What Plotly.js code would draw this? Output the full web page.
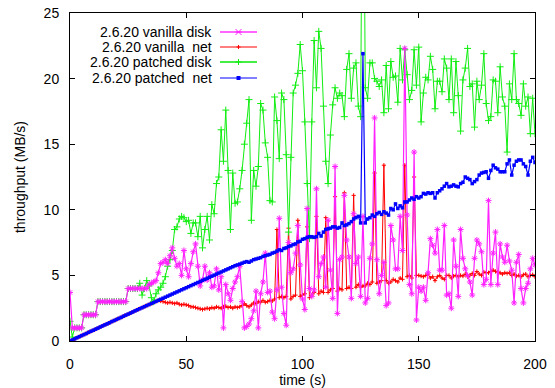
<!DOCTYPE html>
<html>
<head>
<meta charset="utf-8">
<script src="https://cdn.plot.ly/plotly-3.0.1.min.js"></script>
<style>html,body{margin:0;padding:0;background:#fff;}#chart{width:555px;height:388px;}</style>
</head>
<body>
<div id="chart"></div>
<script>
const seriesNames = ["2.6.20 vanilla disk", "2.6.20 vanilla  net", "2.6.20 patched disk", "2.6.20 patched  net"];

const time = [0,
1,2,3,4,5,6,7,8,9,10,
11,12,13,14,15,16,17,18,19,20,
21,22,23,24,25,26,27,28,29,30,
31,32,33,34,35,36,37,38,39,40,
41,42,43,44,45,46,47,48,49,50,
51,52,53,54,55,56,57,58,59,60,
61,62,63,64,65,66,67,68,69,70,
71,72,73,74,75,76,77,78,79,80,
81,82,83,84,85,86,87,88,89,90,
91,92,93,94,95,96,97,98,99,100,
101,102,103,104,105,106,107,108,109,110,
111,112,113,114,115,116,117,118,119,120,
121,122,123,124,125,126,127,128,129,130,
131,132,133,134,135,136,137,138,139,140,
141,142,143,144,145,146,147,148,149,150,
151,152,153,154,155,156,157,158,159,160,
161,162,163,164,165,166,167,168,169,170,
171,172,173,174,175,176,177,178,179,180,
181,182,183,184,185,186,187,188,189,190,
191,192,193,194,195,196,197,198,199,200];

const vanillaDisk = [3.7,
1.0,1.0,1.0,1.0,1.0,2.0,2.0,2.0,2.0,2.0,
2.0,3.0,3.0,3.0,3.0,3.0,3.0,3.0,3.0,3.0,
3.0,3.0,3.0,3.0,4.0,4.0,4.0,4.0,4.0,4.0,
4.0,4.0,4.0,4.3,4.4,4.5,4.6,5.2,5.9,6.0,
6.2,5.9,6.5,7.1,6.3,5.7,5.9,5.0,6.9,5.5,
4.9,5.9,6.8,7.4,5.7,4.2,4.65,5.7,4.65,5.2,
4.1,4.2,5.5,3.9,4.9,1.0,4.3,3.6,3.1,4.0,
4.5,4.9,5.7,3.0,1.0,1.1,1.3,1.7,2.3,3.8,
1.0,3.6,4.5,6.7,3.7,3.8,2.2,1.7,3.9,9.35,
4.1,2.1,1.2,7.5,5.2,5.5,6.7,8.8,5.8,3.2,
2.4,10.1,4.0,3.4,3.9,11.6,4.9,5.9,6.4,4.1,
9.2,5.4,3.25,13.3,2.1,6.2,6.4,11.1,7.7,6.4,
3.25,9.7,5.9,6.4,3.4,9.5,2.9,3.25,6.3,7.4,
17.0,6.2,3.6,5.0,6.0,2.7,2.9,8.8,7.7,5.5,
5.5,9.5,6.9,22.3,9.6,4.3,3.6,14.4,1.6,4.1,
3.8,4.1,3.1,5.2,7.8,7.3,6.7,8.5,5.4,5.4,
8.8,3.5,3.6,2.5,7.7,5.7,3.4,8.5,6.3,5.5,
5.0,4.5,3.5,6.3,7.7,7.4,6.8,4.3,4.7,10.7,
4.3,6.7,8.3,4.3,7.4,6.4,6.0,7.3,6.1,5.4,
2.9,6.0,6.6,4.0,2.9,4.0,4.4,5.5,6.3,5.8];

const vanillaNet = [0,
0.08,0.16,0.25,0.33,0.41,0.49,0.57,0.66,0.74,0.82,
0.9,0.98,1.07,1.15,1.23,1.31,1.39,1.48,1.56,1.64,
1.72,1.8,1.89,1.97,2.05,2.13,2.21,2.3,2.38,2.46,
2.54,2.62,2.7,2.78,2.86,2.94,3.02,3.1,3.05,3.0,
2.95,2.9,2.95,2.9,2.85,2.9,2.8,2.75,2.8,2.75,
2.7,2.6,2.6,2.55,2.5,2.45,2.4,2.45,2.5,2.45,
2.55,2.5,2.6,2.55,2.5,2.6,2.65,2.55,2.6,2.5,
2.6,2.55,2.6,2.7,2.85,2.7,2.6,2.75,2.9,2.85,
3.0,2.95,3.1,2.95,3.0,3.1,3.05,3.2,8.5,3.3,
3.4,3.3,3.4,8.6,3.2,3.4,3.5,9.2,3.4,3.5,
3.6,8.7,3.3,3.5,3.7,9.5,3.6,3.8,3.7,9.4,
3.7,3.9,4.0,11.0,3.8,4.0,3.9,11.3,4.0,4.1,
4.0,11.1,4.1,4.3,4.1,4.2,4.2,4.4,4.3,4.5,
12.8,4.4,4.5,4.6,13.4,4.6,4.4,4.5,4.7,4.6,
4.5,4.8,4.7,13.4,4.9,5.0,4.8,12.5,5.0,5.0,
4.95,4.9,5.0,5.1,4.8,4.9,4.6,4.9,5.0,4.8,
4.7,5.0,5.0,4.8,4.95,5.0,4.9,5.0,4.95,5.1,
4.9,5.0,5.15,5.0,5.3,5.1,5.0,5.25,5.2,5.2,
5.3,5.4,5.3,5.25,5.2,5.1,5.2,5.15,5.2,5.0,
5.1,4.95,5.0,4.9,5.05,5.1,4.9,5.0,5.05,4.9];

const patchedDisk = [1.5,
0.3,1.0,1.0,1.0,1.0,2.0,2.0,2.0,2.0,2.0,
2.0,3.0,3.0,3.0,3.0,3.0,3.0,3.0,3.0,3.0,
3.0,3.0,3.0,3.0,4.0,4.0,4.0,4.0,4.0,4.4,
3.5,4.0,4.6,4.2,3.3,3.0,3.6,3.9,4.1,4.4,
4.9,5.7,6.2,6.9,8.5,8.7,9.3,9.5,9.4,9.1,
9.2,8.2,9.0,9.0,7.95,9.5,7.1,8.5,9.5,7.7,
10.4,9.7,12.0,12.5,16.1,13.7,17.6,13.0,8.5,12.8,
10.5,10.6,11.6,13.0,15.0,16.6,18.4,9.2,13.0,11.8,
13.3,18.1,17.6,15.1,14.0,10.7,10.6,18.6,16.8,13.9,
18.9,18.4,14.2,8.3,14.0,18.9,19.5,20.4,22.6,20.6,
16.7,12.0,7.8,16.7,22.9,19.3,23.6,22.3,17.9,13.7,
12.0,15.7,18.0,19.3,18.5,18.9,18.7,17.1,20.7,21.9,
18.5,20.8,21.2,17.9,17.1,45,19.3,18.5,21.2,21.2,
20.0,19.8,19.4,19.9,17.4,21.0,17.7,21.3,20.1,20.2,
18.2,22.3,19.9,22.2,20.3,18.4,19.1,22.2,19.5,22.4,
16.7,18.9,20.1,19.9,21.7,20.7,17.7,19.8,19.8,19.0,
21.5,20.8,18.4,21.5,17.4,21.3,18.7,16.0,19.9,20.8,
22.3,19.4,19.6,16.3,19.8,18.4,19.5,21.9,18.1,16.8,
17.1,19.9,19.8,17.4,20.9,18.6,17.9,14.4,19.6,18.4,
21.9,18.4,18.1,17.2,19.6,17.9,18.6,15.8,18.5,15.8];

const patchedNet = [0,
0.08,0.16,0.25,0.33,0.41,0.49,0.57,0.66,0.74,0.82,
0.9,0.98,1.07,1.15,1.23,1.31,1.39,1.48,1.56,1.64,
1.72,1.8,1.89,1.97,2.05,2.13,2.21,2.3,2.38,2.46,
2.54,2.62,2.7,2.78,2.86,2.94,3.02,3.1,3.18,3.26,
3.34,3.42,3.5,3.58,3.66,3.74,3.82,3.9,3.98,4.06,
4.14,4.22,4.3,4.38,4.46,4.54,4.62,4.7,4.78,4.86,
4.94,5.02,5.1,5.18,5.26,5.34,5.42,5.5,5.58,5.66,
5.74,5.8,5.86,5.93,6.0,6.05,6.0,6.1,6.2,6.25,
6.3,6.35,6.45,6.5,6.55,6.6,6.7,6.75,6.85,6.95,
6.9,7.05,7.1,7.2,7.25,7.35,7.4,7.55,7.6,7.75,
7.8,7.9,7.95,7.95,7.9,7.95,8.2,8.0,8.3,8.5,
8.55,8.6,8.7,8.7,8.6,8.65,9.0,8.8,8.85,8.95,
9.1,9.3,9.4,9.5,9.0,21.9,9.0,9.3,9.4,9.6,
9.5,9.7,9.8,9.65,9.85,9.75,9.6,10.1,10.0,10.45,
10.1,10.3,10.15,10.6,10.6,10.75,10.9,10.8,11.0,10.9,
11.0,11.25,11.2,11.3,11.25,11.3,10.9,11.3,11.45,11.6,
11.8,12.0,11.75,11.8,11.9,11.8,11.75,12.0,12.1,12.5,
12.4,12.3,12.0,12.15,12.3,12.65,12.8,12.85,12.9,12.4,
13.0,13.4,13.2,13.1,12.9,12.9,12.9,13.5,13.8,12.65,
13.4,13.7,13.8,13.8,13.5,13.3,12.65,13.7,14.0,13.6];

const xTicks = [0, 50, 100, 150, 200];
const yTicks = [0, 5, 10, 15, 20, 25];

const colors = {vd: '#ff22ff', vn: '#ff0000', pd: '#11ee11', pn: '#0000ff'};

const traces = [
  {x: time, y: vanillaNet, name: seriesNames[1], mode: 'lines+markers',
   line: {color: colors.vn, width: 1}, marker: {symbol: 'cross-thin-open', size: 3, color: colors.vn, line: {color: colors.vn, width: 1}}},
  {x: time, y: patchedDisk, name: seriesNames[2], mode: 'lines+markers',
   line: {color: colors.pd, width: 1}, marker: {symbol: 'cross-thin-open', size: 5, color: colors.pd, line: {color: colors.pd, width: 1}}},
  {x: time, y: vanillaDisk, name: seriesNames[0], mode: 'lines+markers',
   line: {color: colors.vd, width: 1.2}, marker: {symbol: 'asterisk-open', size: 5, color: colors.vd, line: {color: colors.vd, width: 1}}},
  {x: time, y: patchedNet, name: seriesNames[3], mode: 'lines+markers',
   line: {color: colors.pn, width: 1.2}, marker: {symbol: 'square', size: 3.5, color: colors.pn}}
];

// custom gnuplot-style key (text right-aligned, sample on the right)
const keyTextX = 0.3075, keyL = 0.3226, keyR = 0.4022, keyM = 0.3624;
const keyRows = [0.9421, 0.8963, 0.8506, 0.8018];
const keyColors = ['#ff66ff', colors.vn, '#44ee44', colors.pn];
const keyWidths = [2.2, 1, 1.8, 1.2];
const annotations = seriesNames.map((s, i) => ({
  text: s, xref: 'paper', yref: 'paper', x: keyTextX, y: keyRows[i],
  xanchor: 'right', yanchor: 'middle', showarrow: false, borderpad: 0,
  font: {size: 14, color: '#000'}
}));
const shapes = [];
seriesNames.forEach((s, i) => {
  shapes.push({type: 'line', xref: 'paper', yref: 'paper', x0: keyL, x1: keyR, y0: keyRows[i], y1: keyRows[i],
    line: {color: keyColors[i], width: keyWidths[i]}});
});
function pix(i, x0, y0, x1, y1, c, w) {
  return {type: 'line', xref: 'paper', yref: 'paper', xsizemode: 'pixel', ysizemode: 'pixel',
    xanchor: keyM, yanchor: keyRows[i], x0: x0, x1: x1, y0: y0, y1: y1, line: {color: c, width: w}};
}
shapes.push(pix(0, -3, -3, 3, 3, colors.vd, 1), pix(0, -3, 3, 3, -3, colors.vd, 1), pix(0, -3, 0, 3, 0, colors.vd, 1));
shapes.push(pix(1, -2, 0, 2, 0, colors.vn, 1), pix(1, 0, -2, 0, 2, colors.vn, 1));
shapes.push(pix(2, -3, 0, 3, 0, colors.pd, 1), pix(2, 0, -3, 0, 3, colors.pd, 1));
shapes.push({type: 'rect', xref: 'paper', yref: 'paper', xsizemode: 'pixel', ysizemode: 'pixel',
  xanchor: keyM, yanchor: keyRows[3], x0: -2, x1: 2, y0: -2, y1: 2, fillcolor: colors.pn, line: {width: 0}});

const axisCommon = {
  ticks: 'inside', ticklen: 5, tickwidth: 1, tickcolor: '#000',
  mirror: 'allticks', showline: true, linecolor: '#000', linewidth: 1,
  showgrid: false, zeroline: false, tickfont: {size: 14, color: '#000'}
};

const layout = {
  width: 555, height: 388,
  margin: {l: 70, r: 20, t: 13, b: 47, pad: 0},
  paper_bgcolor: '#fff', plot_bgcolor: '#fff',
  font: {family: 'Liberation Sans, Arial, sans-serif', size: 14, color: '#000'},
  showlegend: false,
  xaxis: Object.assign({}, axisCommon, {
    range: [0, 200], tickvals: xTicks, ticktext: xTicks.map(String), ticklabelstandoff: 10,
    title: {text: 'time (s)', font: {size: 14, color: '#000'}, standoff: 4}
  }),
  yaxis: Object.assign({}, axisCommon, {
    range: [0, 25], tickvals: yTicks, ticktext: yTicks.map(String), ticklabelstandoff: 7,
    title: {text: 'throughput (MB/s)', font: {size: 14, color: '#000'}, standoff: 14}
  }),
  annotations: annotations,
  shapes: shapes
};

Plotly.newPlot('chart', traces, layout, {displayModeBar: false, staticPlot: true});
</script>
</body>
</html>
